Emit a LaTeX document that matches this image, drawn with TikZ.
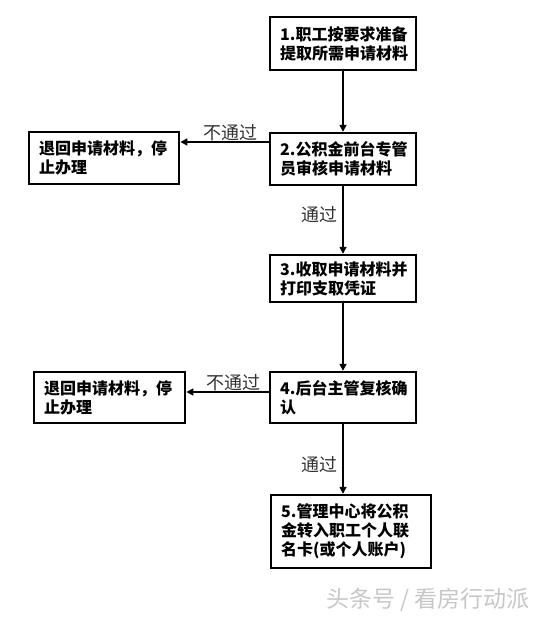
\documentclass[tikz,border=0pt]{standalone}
\usepackage{fontspec}
\usepackage{tikz}
\usetikzlibrary{
    arrows.meta,
    calc,
    positioning
}
\newfontfamily\cjk{Noto Sans CJK SC}

\tikzset{
    stepbox/.style={draw, line width=2.4pt, anchor=west, align=left,
        inner xsep=10pt, inner ysep=4pt, font=\cjk\bfseries\fontsize{16}{19}\selectfont},
    backbox/.style={stepbox},
    flow/.style={line width=1.6pt, -{Triangle[length=7pt,width=7pt]}},
    passlabel/.style={font=\cjk\fontsize{18}{21}\selectfont, text=black!80}
}

\begin{document}
\begin{tikzpicture}[x=1pt, y=-1pt]
                        \useasboundingbox (0, 0) rectangle (546, 620);

                        \node[stepbox, text width=126pt, minimum height=53pt] (s1) at (269, 43.5) {1.职工按要求准备\\提取所需申请材料};
                        \node[stepbox, text width=126pt, minimum height=52pt] (s2) at (269, 159) {2.公积金前台专管\\员审核申请材料};
                        \node[stepbox, text width=126pt, minimum height=47pt] (s3) at (269, 278.5) {3.收取申请材料并\\打印支取凭证};
                        \node[stepbox, text width=126pt, minimum height=51pt] (s4) at (269, 397.5) {4.后台主管复核确\\认};
                        \node[stepbox, text width=140pt, minimum height=73pt] (s5) at (270, 531.5) {5.管理中心将公积\\金转入职工个人联\\名卡(或个人账户)};
                        \node[backbox, text width=130pt, minimum height=52pt] (r1) at (28, 158) {退回申请材料，停\\止办理};
                        \node[backbox, text width=131pt, minimum height=51pt] (r2) at (33, 397.5) {退回申请材料，停\\止办理};

                        \draw[flow] (s1.south -| 343, 0) -- (s2.north -| 343, 0);
                        \draw[flow] (s2.south -| 343, 0) -- node[passlabel, left, xshift=-1pt, yshift=5pt] {通过} (s3.north -| 343, 0);
                        \draw[flow] (s3.south -| 343, 0) -- (s4.north -| 343, 0);
                        \draw[flow] (s4.south -| 343, 0) -- node[passlabel, left, xshift=-1pt, yshift=-6pt] {通过} (s5.north -| 343, 0);
                        \draw[flow] ([yshift=17pt]s2.west) -- node[passlabel, above, inner sep=0pt, xshift=6pt] {不通过} ([yshift=17pt]s2.west -| r1.east);
                        \draw[flow] ([yshift=5.5pt]s4.west) -- node[passlabel, above, inner sep=0pt, xshift=6pt] {不通过} ([yshift=5.5pt]s4.west -| r2.east);

                        \node[font=\cjk\fontsize{23}{27}\selectfont, text=black!22] (wm) at (428, 600) {头条号 / 看房行动派};
                    \end{tikzpicture}
\end{document}
